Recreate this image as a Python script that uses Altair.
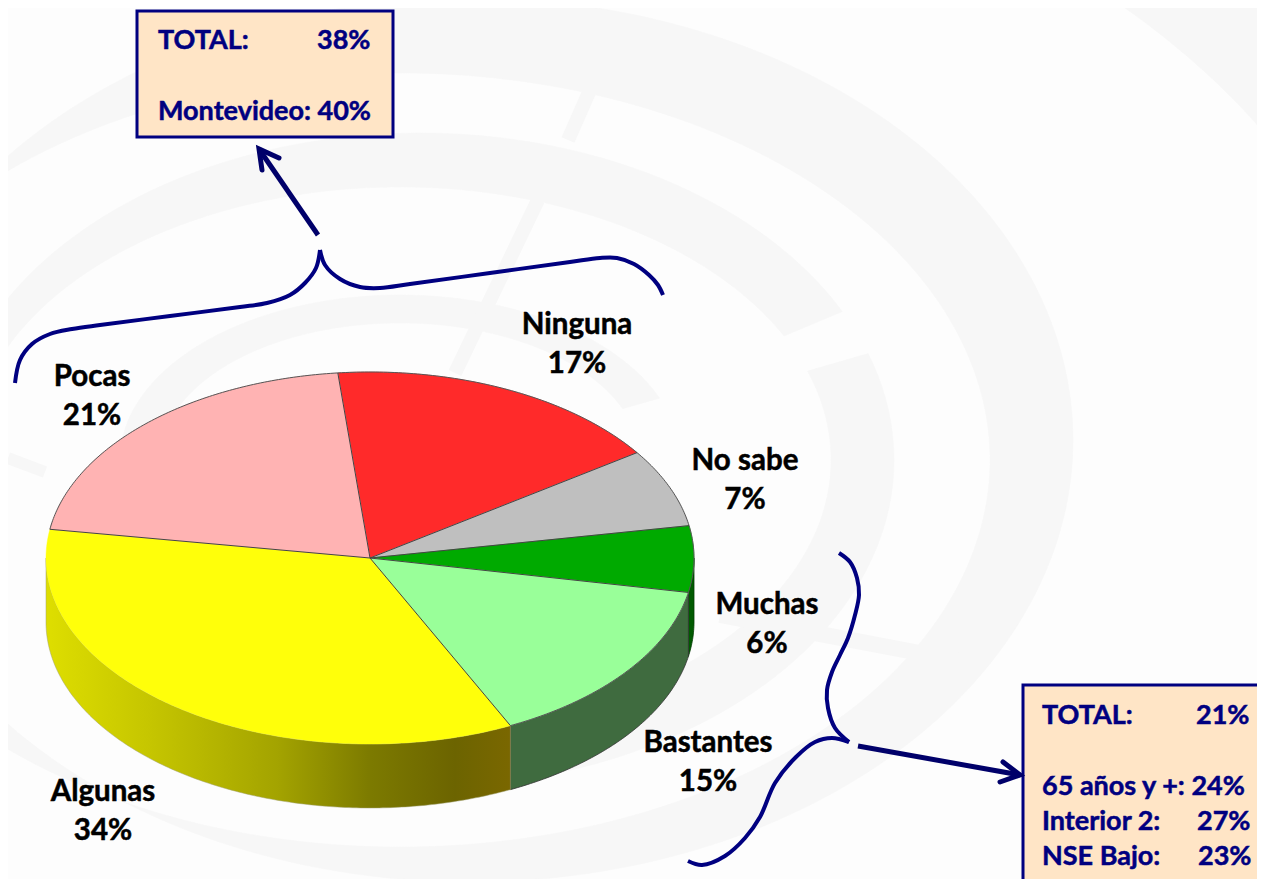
import math
import altair as alt
import pandas as pd

# ---- pie data
slice_names = ["Ninguna", "No sabe", "Muchas", "Bastantes", "Algunas", "Pocas"]
label_pct = ["17%", "7%", "6%", "15%", "34%", "21%"]
# share of the drawn ellipse (perspective makes it differ a little from the labels)
drawn_share = [17.0, 6.8, 5.75, 14.9, 34.6, 20.95]
slice_colors = ["#FF2A2A", "#BFBFBF", "#00AA00", "#99FF99", "#FFFF0A", "#FFB3B3"]
label_x = [577, 745, 767, 708, 103, 92]
label_y = [325, 461, 605, 743, 792, 377]
start_angle = -5.7
CX, CY, RX, RY, DEPTH = 370, 558, 324, 186, 64

# ---- annotation boxes
box1 = dict(x=137, x2=393, y=11, y2=137)
box2 = dict(x=1023, x2=1300, y=685, y2=920)
box_text_x = [158, 317, 158, 1042, 1196, 1042, 1042, 1197, 1042, 1198]
box_text_y = [41, 41, 112, 716, 716, 787, 822, 822, 857, 857]
box_text = ["TOTAL:", "38%", "Montevideo: 40%", "TOTAL:", "21%", "65 años y +: 24%",
            "Interior 2:", "27%", "NSE Bajo:", "23%"]

# ---- braces and arrows
brace_a_left = [(15, 383), (20, 360), (32, 344), (50, 334), (72, 329), (100, 325), (170, 316), (240, 307), (267, 303),
                (290, 295), (305, 283), (316, 268), (320, 250)]
brace_a_right = [(320, 250), (325, 265), (340, 279), (360, 287), (380, 288), (410, 284), (490, 273), (570, 262), (600, 258),
                 (617, 258), (634, 264), (649, 275), (658, 285), (663, 295)]
brace_b_top = [(839, 553), (850, 562), (857, 578), (859, 595), (855, 615), (848, 638), (840, 655), (832, 672), (827, 690),
               (828, 708), (835, 728), (849, 742)]
brace_b_low = [(849, 742), (832, 738), (815, 742), (796, 757), (775, 783), (760, 817), (745, 838), (725, 856), (702, 865), (688, 861)]
arrow_a = [(318, 235), (259, 149)]
head_a = [(279, 158), (259, 149), (262, 170)]
arrow_b = [(858, 746), (1020, 775)]
head_b = [(1003, 762), (1020, 775), (1000, 782)]

NAVY = "#000080"
ARROW = "#00006A"
BAND = "#F7F7F7"

X = alt.X("x:Q", scale=alt.Scale(domain=[8, 1257]), axis=None)
Y = alt.Y("y:Q", scale=alt.Scale(domain=[879, 8]), axis=None)


def path(points, interpolate="linear", **mark):
    df = pd.DataFrame(points, columns=["x", "y"])
    df["i"] = range(len(df))
    return alt.Chart(df).mark_line(interpolate=interpolate, clip=True, **mark).encode(
        x=X, y=Y, order=alt.Order("i:Q"))


def on_ellipse(angle, rx, ry, cx=CX, cy=CY, dy=0):
    a = math.radians(angle)
    return (cx + rx * math.sin(a), cy - ry * math.cos(a) + dy)


def arc_points(a0, a1, rx, ry, cx=CX, cy=CY, dy=0):
    steps = max(2, int(abs(a1 - a0) * 1.5))
    return [on_ellipse(a0 + (a1 - a0) * k / steps, rx, ry, cx, cy, dy) for k in range(steps + 1)]


def ring(a0, a1, inner, outer):
    pts = arc_points(a0, a1, outer[2], outer[3], outer[0], outer[1]) + arc_points(a1, a0, inner[2], inner[3], inner[0], inner[1])
    return path(pts + pts[:1], fill=BAND, stroke=BAND, strokeWidth=0.5)


layers = []

# ---- faint watermark behind the chart
R0_IN, R0_OUT = (400, 460, 995, 660), (400, 460, 1500, 1100)
R1_IN, R1_OUT = (400, 460, 590, 387), (470, 440, 603, 442)
R2_IN, R2_OUT = (400, 460, 431, 273), (420, 460, 474, 327)
R3_IN, R3_OUT = (400, 460, 240, 137), (400, 460, 280, 165)
layers += [
    ring(40, 140, R0_IN, R0_OUT),
    ring(-100, 250, R1_IN, R1_OUT),
    ring(-100, 63, R2_IN, R2_OUT),
    ring(71, 165, R2_IN, R2_OUT),
    ring(-100, 68, R3_IN, R3_OUT),
    path([(590, 90), (568, 140)], stroke=BAND, strokeWidth=14),
    path([(538, 200), (455, 373)], stroke=BAND, strokeWidth=14),
    path([(720, 615), (967, 662)], stroke=BAND, strokeWidth=16),
    path([(8, 458), (45, 472)], stroke=BAND, strokeWidth=12),
]

# ---- pie
bounds = [start_angle]
for s in drawn_share:
    bounds.append(bounds[-1] + s * 3.6)


def wall(a0, a1):
    return arc_points(a0, a1, RX, RY) + arc_points(a1, a0, RX, RY, dy=DEPTH)


muchas_end = bounds[3]
bast_end = bounds[4]

w = wall(90, muchas_end)
layers.append(path(w + w[:1], fill="#005A00", stroke="#003A00", strokeWidth=0.8))
w = wall(muchas_end, bast_end)
layers.append(path(w + w[:1], fill="#3F6B3F", stroke="#333333", strokeWidth=0.8))
w = wall(bast_end, 270)
gradient = alt.Gradient(
    gradient="linear", x1=1, x2=0, y1=0, y2=0,
    stops=[
        alt.GradientStop(color="#7A6700", offset=0),
        alt.GradientStop(color="#6C6400", offset=0.12),
        alt.GradientStop(color="#7C7A00", offset=0.3),
        alt.GradientStop(color="#A3A300", offset=0.5),
        alt.GradientStop(color="#C6C600", offset=0.78),
        alt.GradientStop(color="#DEDE00", offset=1),
    ],
)
layers.append(path(w + w[:1], fill=gradient, stroke="#A0A070", strokeWidth=0.5))

for i, color in enumerate(slice_colors):
    a0, a1 = bounds[i], bounds[i + 1]
    pts = [(CX, CY)] + arc_points(a0, a1, RX, RY) + [(CX, CY)]
    layers.append(path(pts, fill=color, stroke=color, strokeWidth=0.4))

# rim and spokes
for i, name in enumerate(slice_names):
    if name != "Algunas":
        layers.append(path(arc_points(bounds[i], bounds[i + 1], RX, RY), stroke="#555555", strokeWidth=1))
for b in bounds[:-1]:
    layers.append(path([(CX, CY), on_ellipse(b, RX, RY)], stroke="#444444", strokeWidth=1))

# ---- pie labels
rows = []
for name, pct, x, y in zip(slice_names, label_pct, label_x, label_y):
    rows.append({"x": x, "y": y, "t": name})
    rows.append({"x": x, "y": y + 39, "t": pct})
layers.append(
    alt.Chart(pd.DataFrame(rows))
    .mark_text(font="Lato", fontWeight="bold", fontSize=29.5, color="#000000", stroke="#000000", strokeWidth=0.5,
               align="center", baseline="middle")
    .encode(x=X, y=Y, text="t:N")
)

# ---- boxes
for b in (box1, box2):
    layers.append(
        alt.Chart(pd.DataFrame([b]))
        .mark_rect(fill="#FFE5C6", stroke=NAVY, strokeWidth=3, clip=True)
        .encode(x=X, y=Y, x2="x2:Q", y2="y2:Q")
    )
layers.append(
    alt.Chart(pd.DataFrame({"x": box_text_x, "y": box_text_y, "t": box_text}))
    .mark_text(font="Lato", fontWeight="bold", fontSize=27, color=NAVY, stroke=NAVY, strokeWidth=0.5,
               align="left", baseline="middle")
    .encode(x=X, y=Y, text="t:N")
)

# ---- braces and arrows
for br in (brace_a_left, brace_a_right, brace_b_top, brace_b_low):
    layers.append(path(br, interpolate="catmull-rom", stroke=NAVY, strokeWidth=4))
for ar in (arrow_a, head_a, arrow_b, head_b):
    layers.append(path(ar, stroke=ARROW, strokeWidth=5, strokeCap="round" if ar in (head_a, head_b) else "butt"))

chart = (
    alt.layer(*layers)
    .properties(width=1249, height=871, padding=0, autosize=alt.AutoSizeParams(type="none"), background="#FDFDFD")
    .configure_view(strokeWidth=0)
)
chart.save("out.html", embed_options={"renderer": "svg", "actions": False})
